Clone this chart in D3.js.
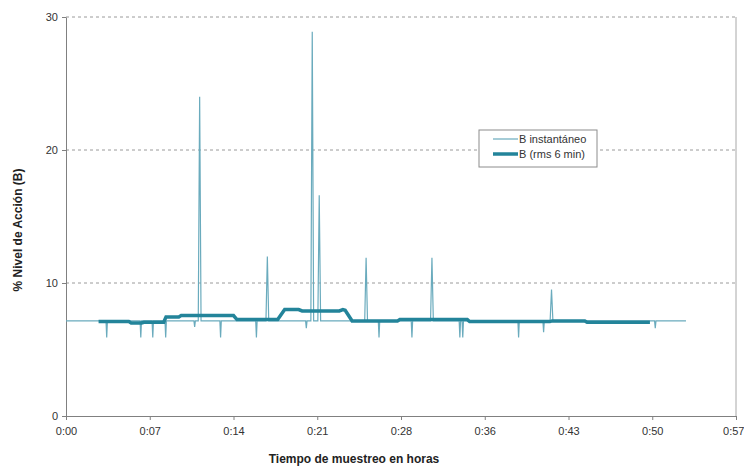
<!DOCTYPE html>
<html>
<head>
<meta charset="utf-8">
<title>Nivel de Accion B</title>
<script src="https://cdn.jsdelivr.net/npm/d3@7/dist/d3.min.js"></script>
<style>
body { margin: 0; background: #fff; font-family: "Liberation Sans", Arial, sans-serif; }
.tick text { font-size: 11px; fill: #333; }
</style>
</head>
<body>
<div id="chart"></div>
<script>
// x axis ticks are excel fractions of a day (0.005 d = 7.2 min)
var tickMinutes = [0, 7.2, 14.4, 21.6, 28.8, 36, 43.2, 50.4, 57.6];
var tickLabels = ["0:00", "0:07", "0:14", "0:21", "0:28", "0:36", "0:43", "0:50", "0:57"];
var yTicks = [0, 10, 20, 30];

// B instantaneo: flat level with short peaks and dips (minutes, %)
var instStart = 0, instEnd = 53.3, instBase = 7.15;
var eventTimes  = [3.5, 6.43, 7.46, 8.57, 11.06, 11.49, 13.29, 16.37, 17.31, 20.66, 21.17, 21.77, 25.8, 26.91, 29.74, 31.46, 33.86, 34.11, 38.91, 41.06, 41.74, 50.66];
var eventValues = [5.9, 5.9, 5.9, 5.9, 6.7, 24.0, 5.9, 5.9, 12.0, 6.6, 28.9, 16.6, 11.9, 5.9, 5.9, 11.9, 5.9, 5.9, 5.9, 6.3, 9.5, 6.6];

// B (rms 6 min)
var rmsTimes  = [2.8, 5.4, 5.6, 6.5, 6.7, 8.4, 8.6, 9.7, 9.9, 14.4, 14.7, 18.2, 18.8, 20.0, 20.3, 23.5, 23.8, 24.0, 24.6, 28.5, 28.7, 34.5, 34.7, 41.6, 41.8, 44.6, 44.8, 50.2];
var rmsValues = [7.1, 7.1, 7.0, 7.0, 7.05, 7.05, 7.45, 7.45, 7.55, 7.55, 7.25, 7.25, 8.0, 8.0, 7.9, 7.9, 8.0, 7.95, 7.15, 7.15, 7.25, 7.25, 7.1, 7.1, 7.15, 7.15, 7.05, 7.05];

var width = 744, height = 466;
var margin = {top: 17, right: 8, bottom: 50, left: 66};

var svg = d3.select("#chart").append("svg")
    .attr("width", width)
    .attr("height", height);

var x = d3.scaleLinear().domain([0, 57.6]).range([margin.left, 736]);
var y = d3.scaleLinear().domain([0, 30]).range([416, margin.top]);

// dashed grid
svg.selectAll(".grid")
    .data(yTicks.filter(function(d) { return d > 0; }))
    .enter().append("line")
    .attr("x1", x(0)).attr("x2", x(57.6))
    .attr("y1", function(d) { return y(d); })
    .attr("y2", function(d) { return y(d); })
    .attr("stroke", "#9a9a9a")
    .attr("stroke-dasharray", "3,3");

// right border of plot area
svg.append("line")
    .attr("x1", x(57.6)).attr("x2", x(57.6))
    .attr("y1", y(30)).attr("y2", y(0))
    .attr("stroke", "#a8a8a8");

var xAxis = d3.axisBottom(x)
    .tickValues(tickMinutes)
    .tickFormat(function(d, i) { return tickLabels[i]; })
    .tickSize(4).tickSizeOuter(0);

var yAxis = d3.axisLeft(y)
    .tickValues(yTicks)
    .tickSize(4).tickSizeOuter(0);

var gx = svg.append("g").attr("transform", "translate(0," + y(0) + ")").call(xAxis);
gx.selectAll("text").attr("dy", "1.05em");
// last label sits at the window edge, pull it in a bit
gx.selectAll("text").filter(function(d) { return d === 57.6; })
    .attr("text-anchor", "end").attr("x", 8);
var gy = svg.append("g").attr("transform", "translate(" + x(0) + ",0)").call(yAxis);
gy.selectAll("text").attr("x", -8);
svg.selectAll(".domain, .tick line").attr("stroke", "#808080");

// instantaneous line
var inst = [[instStart, instBase]];
for (var i = 0; i < eventTimes.length; i++) {
    var w = eventValues[i] > instBase ? 0.12 : 0.06;
    inst.push([eventTimes[i] - w, instBase]);
    inst.push([eventTimes[i], eventValues[i]]);
    inst.push([eventTimes[i] + w, instBase]);
}
inst.push([instEnd, instBase]);

var line = d3.line()
    .x(function(d) { return x(d[0]); })
    .y(function(d) { return y(d[1]); });

svg.append("path")
    .datum(inst)
    .attr("fill", "none")
    .attr("stroke", "#6aabbd")
    .attr("stroke-width", 1.2)
    .attr("d", line);

var rms = rmsTimes.map(function(t, i) { return [t, rmsValues[i]]; });
svg.append("path")
    .datum(rms)
    .attr("fill", "none")
    .attr("stroke", "#23849a")
    .attr("stroke-width", 3.5)
    .attr("d", line);

// legend
var lg = svg.append("g").attr("transform", "translate(479,130)");
lg.append("rect")
    .attr("width", 118).attr("height", 37)
    .attr("fill", "#fff")
    .attr("stroke", "#8c8c8c");
var legendItems = [
    {name: "B instant\u00e1neo", color: "#6aabbd", w: 1.2},
    {name: "B (rms 6 min)", color: "#23849a", w: 3.5}
];
var li = lg.selectAll(".li").data(legendItems).enter().append("g")
    .attr("transform", function(d, i) { return "translate(0," + (9 + i * 15) + ")"; });
li.append("line")
    .attr("x1", 14).attr("x2", 39)
    .attr("stroke", function(d) { return d.color; })
    .attr("stroke-width", function(d) { return d.w; });
li.append("text")
    .attr("x", 40).attr("dy", "0.35em")
    .style("font-size", "11px").style("fill", "#333")
    .text(function(d) { return d.name; });

// axis titles
svg.append("text")
    .attr("x", 354).attr("y", 463)
    .attr("text-anchor", "middle")
    .style("font-size", "12px").style("font-weight", "bold").style("fill", "#222")
    .text("Tiempo de muestreo en horas");

svg.append("text")
    .attr("transform", "translate(22,230) rotate(-90)")
    .attr("text-anchor", "middle")
    .style("font-size", "12px").style("font-weight", "bold").style("fill", "#222")
    .text("% Nivel de Acci\u00f3n (B)");
</script>
</body>
</html>
